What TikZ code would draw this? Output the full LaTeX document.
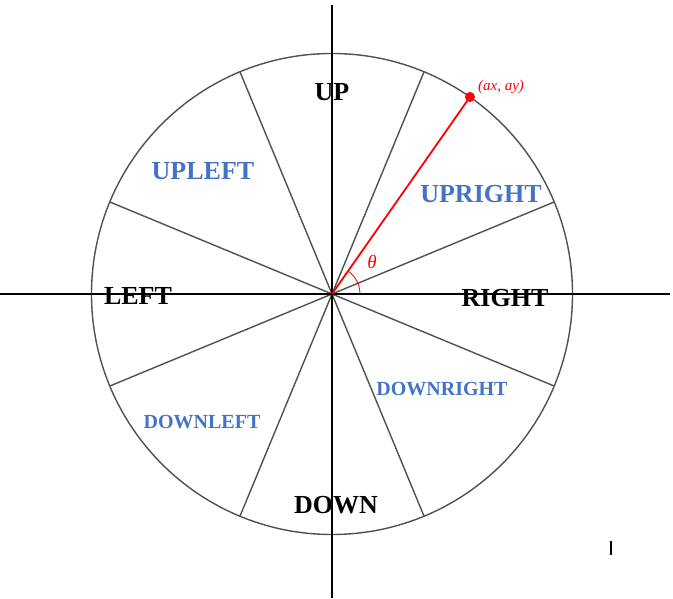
\documentclass[tikz,border=0pt]{standalone}
\usepackage{fontspec}
\setmainfont{Liberation Serif}
\usepackage{amsmath}
\usepackage{xcolor}
\usetikzlibrary{calc}
\definecolor{dirblue}{HTML}{4472C4}
\definecolor{rimgray}{HTML}{505050}

\begin{document}
\begin{tikzpicture}[x=1pt,y=1pt,
        bigdir/.style={font=\fontsize{26}{26}\selectfont\bfseries,inner sep=0pt},
        smalldir/.style={font=\fontsize{20}{20}\selectfont\bfseries,inner sep=0pt,text=dirblue}]
        \useasboundingbox (0,0) rectangle (673,598);
        \coordinate (O) at (332,304);
        \draw[rimgray,line width=1.4] (O) circle (240.5);
        \foreach \a in {22.5,67.5,112.5,157.5,202.5,247.5,292.5,337.5}
        \draw[rimgray,line width=1.4] (O) -- ++(\a:240.5);
        % axes
        \coordinate (xl) at (0,304);
        \coordinate (xr) at (670,304);
        \coordinate (yt) at (332,593);
        \coordinate (yb) at (332,0);
        \draw[line width=1.6] (xl) -- (xr);
        \draw[line width=1.6] (yt) -- (yb);
        % the vector (ax, ay)
        \coordinate (P) at ($(O)+(55:240.5)$);
        \draw[red,line width=1.8] (O) -- (P);
        \fill[red] (P) circle (5);
        \node[red,anchor=west,inner sep=0pt,font=\fontsize{15}{15}\selectfont\itshape] (plabel) at ($(P)+(8,10)$) {(ax, ay)};
        \draw[red,line width=0.8] ($(O)+(28,0)$) arc (0:55:28);
        \node[red,inner sep=0pt,font=\fontsize{19}{19}\selectfont\itshape] (theta) at (372,336) {θ};
        % sectors
        \node[bigdir] (up) at (332,506) {UP};
        \node[bigdir] (down) at (336,93) {DOWN};
        \node[bigdir] (left) at (138,302) {LEFT};
        \node[bigdir] (right) at (505,300) {RIGHT};
        \node[bigdir,text=dirblue] (upleft) at (203,427) {UPLEFT};
        \node[bigdir,text=dirblue] (upright) at (481,404) {UPRIGHT};
        \node[smalldir] (downright) at (442,209) {DOWNRIGHT};
        \node[smalldir] (downleft) at (202,176) {DOWNLEFT};
        \draw[line width=1.2] (611,43) -- (611,57);
\end{tikzpicture}
\end{document}
